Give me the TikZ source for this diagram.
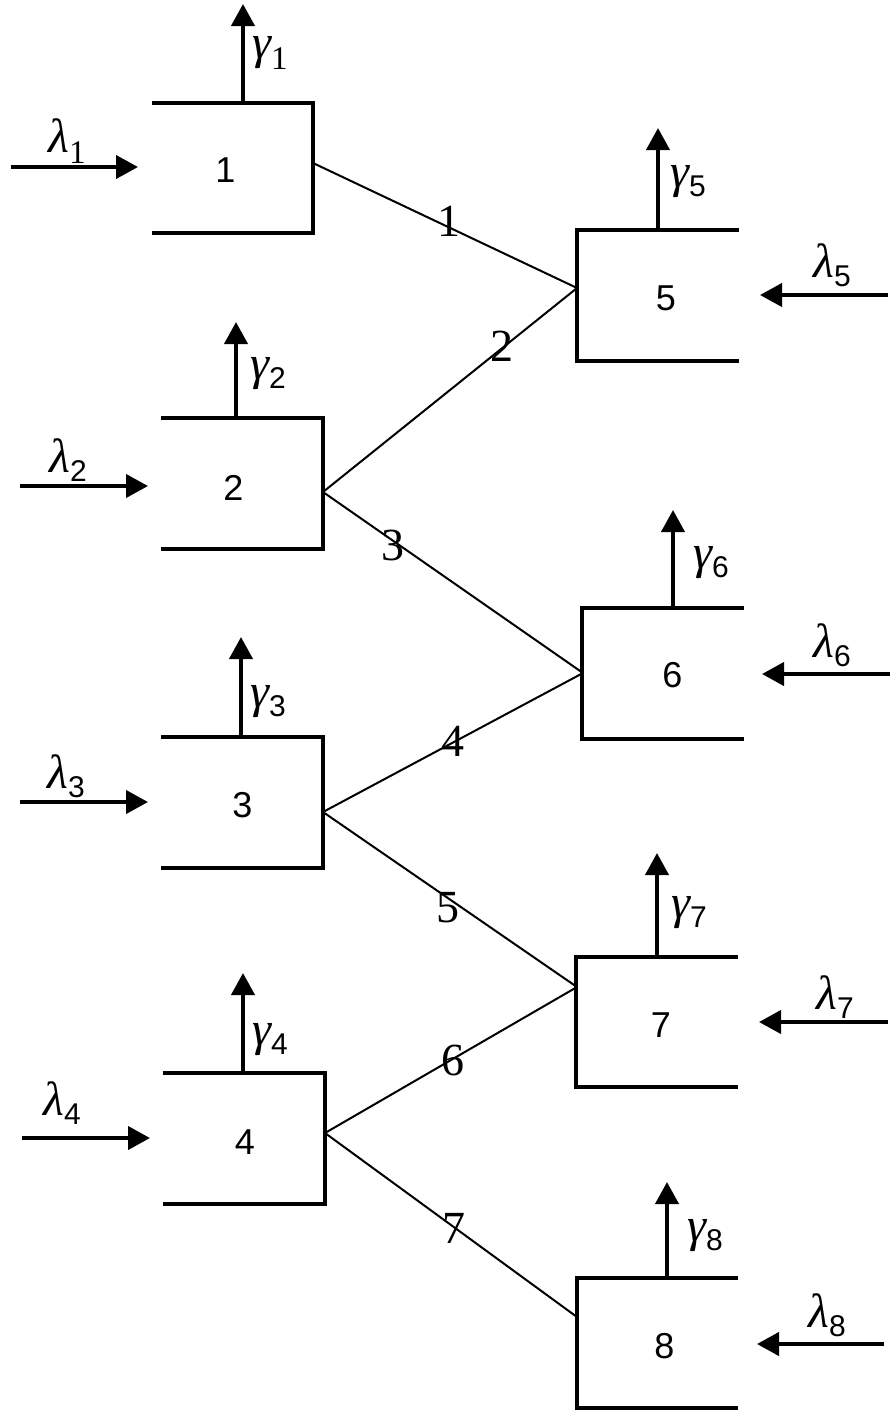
\documentclass[tikz,border=0pt]{standalone}
\usepackage{fontspec}
\setmainfont{Liberation Serif}
\newfontfamily\sansf{Liberation Sans}
\usetikzlibrary{arrows.meta}
\newcommand\mygam{{\fontsize{48}{48}\selectfont\itshape γ}}
\newcommand\mylam{{\fontsize{48}{48}\selectfont\itshape λ}}
\newcommand\subsans[1]{\raisebox{-9pt}{\sansf\fontsize{30}{30}\selectfont #1}}
\newcommand\subserif[1]{\raisebox{-11pt}{\fontsize{33}{33}\selectfont #1}}
\tikzset{
  box/.style={rectangle, inner sep=0pt, minimum width=161pt, minimum height=130pt},
  frame/.style={line width=4pt, miter limit=10},
  boxtxt/.style={inner sep=0pt, font=\sansf\fontsize{36}{36}\selectfont},
  flow/.style={line width=4pt, -{Triangle[length=22pt, width=23pt]}},
  link/.style={line width=2pt},
  edgetxt/.style={inner sep=0pt, font=\fontsize{46}{46}\selectfont},
  greek/.style={inner sep=0pt}
}
\begin{document}
\begin{tikzpicture}[x=1pt, y=-1pt]
\useasboundingbox (0,0) rectangle (894,1422);
% boxes
\node[box] (b1) at (232.5,168) {};
\node[box] (b2) at (242,483.5) {};
\node[box] (b3) at (242,802.5) {};
\node[box] (b4) at (244,1138.5) {};
\node[box] (b5) at (658,295.5) {};
\node[box] (b6) at (663,673.5) {};
\node[box] (b7) at (657,1022) {};
\node[box] (b8) at (657.5,1343) {};
% frames: left boxes open on the left, right boxes open on the right
\foreach \b in {b1,b2,b3,b4}
  \draw[frame] (\b.north west) -| (\b.south east) -- (\b.south west);
\foreach \b in {b5,b6,b7,b8}
  \draw[frame] (\b.north east) -| (\b.south west) -- (\b.south east);
% box labels
\node[boxtxt] (n1) at (225.5,170) {1};
\node[boxtxt] (n2) at (233.5,488) {2};
\node[boxtxt] (n3) at (242.5,805) {3};
\node[boxtxt] (n4) at (245,1142) {4};
\node[boxtxt] (n5) at (666,298.5) {5};
\node[boxtxt] (n6) at (672.5,675) {6};
\node[boxtxt] (n7) at (661,1025.5) {7};
\node[boxtxt] (n8) at (664.5,1346.5) {8};
% junction points
\coordinate (j1) at (313,163);
\coordinate (j2) at (323,492);
\coordinate (j3) at (323,812);
\coordinate (j4) at (325,1133);
\coordinate (j5) at (577,288);
\coordinate (j6) at (583,673);
\coordinate (j7) at (577,987);
\coordinate (j8) at (577,1317);
% links
\draw[link] (j1) -- (j5);
\draw[link] (j2) -- (j5);
\draw[link] (j2) -- (j6);
\draw[link] (j3) -- (j6);
\draw[link] (j3) -- (j7);
\draw[link] (j4) -- (j7);
\draw[link] (j4) -- (j8);
% link labels
\node[edgetxt] (e1) at (449,221) {1};
\node[edgetxt] (e2) at (502,346) {2};
\node[edgetxt] (e3) at (393,545) {3};
\node[edgetxt] (e4) at (453,741) {4};
\node[edgetxt] (e5) at (448,908) {5};
\node[edgetxt] (e6) at (453,1060) {6};
\node[edgetxt] (e7) at (454,1228) {7};
% gamma outputs
\coordinate (g1) at (243,4);
\coordinate (g2) at (236,322);
\coordinate (g3) at (241,637);
\coordinate (g4) at (243,973);
\coordinate (g5) at (658,128);
\coordinate (g6) at (673,510);
\coordinate (g7) at (657,853);
\coordinate (g8) at (667,1182);
\foreach \i in {1,...,8}
  \draw[flow] (b\i.north -| g\i) -- (g\i);
\node[greek] (G1) at (270,53) {\mygam\subserif{1}};
\node[greek] (G2) at (268,374) {\mygam\subsans{2}};
\node[greek] (G3) at (268,702) {\mygam\subsans{3}};
\node[greek] (G4) at (270,1040) {\mygam\subsans{4}};
\node[greek] (G5) at (688,182) {\mygam\subsans{5}};
\node[greek] (G6) at (711,563) {\mygam\subsans{6}};
\node[greek] (G7) at (689,913) {\mygam\subsans{7}};
\node[greek] (G8) at (705,1236) {\mygam\subsans{8}};
% lambda inputs
\coordinate (s1) at (11,167);   \coordinate (t1) at (138,167);
\coordinate (s2) at (20,486);   \coordinate (t2) at (148,486);
\coordinate (s3) at (20,802);   \coordinate (t3) at (148,802);
\coordinate (s4) at (22,1138);  \coordinate (t4) at (150,1138);
\coordinate (s5) at (888,295);  \coordinate (t5) at (760,295);
\coordinate (s6) at (890,674);  \coordinate (t6) at (762,674);
\coordinate (s7) at (888,1022); \coordinate (t7) at (759,1022);
\coordinate (s8) at (884,1344); \coordinate (t8) at (757,1344);
\foreach \i in {1,...,8}
  \draw[flow] (s\i) -- (t\i);
\node[greek] (L1) at (67,141) {\mylam\subserif{1}};
\node[greek] (L2) at (68,460) {\mylam\subsans{2}};
\node[greek] (L3) at (66,776) {\mylam\subsans{3}};
\node[greek] (L4) at (62,1103) {\mylam\subsans{4}};
\node[greek] (L5) at (832,265) {\mylam\subsans{5}};
\node[greek] (L6) at (832,645) {\mylam\subsans{6}};
\node[greek] (L7) at (835,997) {\mylam\subsans{7}};
\node[greek] (L8) at (827,1315) {\mylam\subsans{8}};
\end{tikzpicture}
\end{document}
